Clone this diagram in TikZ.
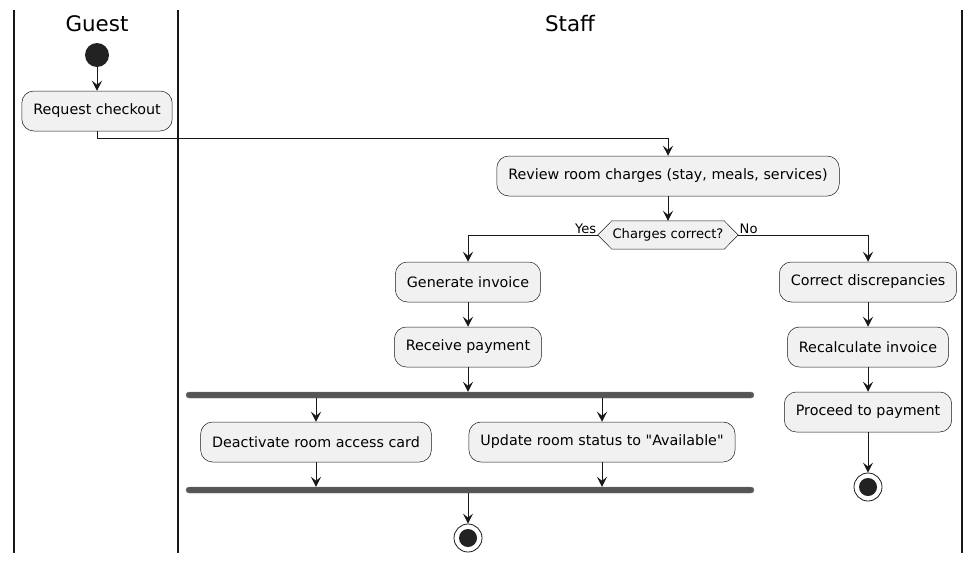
\documentclass[tikz,border=0pt]{standalone}
\usepackage{fontspec}
\setmainfont{DejaVu Sans}[Ligatures = TeXOff]
\usetikzlibrary{arrows.meta}
\definecolor{lineClr}{HTML}{181818}
\definecolor{boxFill}{HTML}{F1F1F1}
\definecolor{barClr}{HTML}{555555}
\definecolor{dotClr}{HTML}{222222}
\tikzstyle{actionStyle}=[shape = rectangle, rounded corners = 12pt, draw = lineClr, line width = 0.5pt, fill = boxFill, inner xsep = 11.5pt, minimum height = 40pt, font = \fontsize{14.3}{17}\selectfont]
\tikzstyle{barStyle}=[shape = rectangle, rounded corners = 3pt, draw = barClr!80, fill = barClr, minimum width = 568pt, minimum height = 6pt, inner sep = 0pt]
\tikzstyle{startStyle}=[shape = circle, minimum size = 24pt, inner sep = 0pt, fill = dotClr]
\tikzstyle{stopStyle}=[shape = circle, minimum size = 28pt, inner sep = 0pt, draw = lineClr, line width = 0.8pt, fill = white, path picture = {\fill[dotClr] (path picture bounding box.center) circle (9pt);}]
\tikzstyle{flowStyle}=[draw = lineClr, line width = 1pt, -{Stealth[length = 10pt, width = 10pt, inset = 4pt]}]
\tikzstyle{laneStyle}=[draw = lineClr, line width = 1.2pt]
\tikzstyle{smallLabel}=[font = \fontsize{13.1}{15}\selectfont, inner sep = 1pt]

\begin{document}
\begin{tikzpicture}[x = 1pt, y = -1pt]
\useasboundingbox (0,0) rectangle (973,563);
% swimlanes
\draw[laneStyle] (14,10) -- (14,553);
\draw[laneStyle] (178,10) -- (178,553);
\draw[laneStyle] (962,10) -- (962,553);
\node[font = \fontsize{21.4}{24}\selectfont] (guestTitle) at (97,24) {Guest};
\node[font = \fontsize{21.4}{24}\selectfont] (staffTitle) at (570,24) {Staff};
% nodes
\node[startStyle] (start) at (97,55) {};
\node[actionStyle] (request) at (97,111) {Request checkout};
\node[actionStyle] (review) at (668,176) {Review room charges (stay, meals, services)};
\node[smallLabel, minimum width = 140pt, minimum height = 28pt, inner sep = 0pt] (check) at (668,235) {Charges correct?};
\draw[draw = lineClr, line width = 0.5pt, fill = boxFill] (check.west) -- ([xshift = 14pt]check.north west) -- ([xshift = -14pt]check.north east) -- (check.east) -- ([xshift = -14pt]check.south east) -- ([xshift = 14pt]check.south west) -- cycle;
\node[smallLabel] at (check) {Charges correct?};
\node[actionStyle] (invoice) at (468,282) {Generate invoice};
\node[actionStyle] (payment) at (468,347) {Receive payment};
\node[barStyle] (fork) at (470,395) {};
\node[actionStyle] (deactivate) at (316,442) {Deactivate room access card};
\node[actionStyle] (status) at (602,442) {Update room status to "Available"};
\node[barStyle] (join) at (470,490) {};
\node[stopStyle] (stopA) at (468,538) {};
\node[actionStyle] (correct) at (868,282) {Correct discrepancies};
\node[actionStyle] (recalc) at (868,347) {Recalculate invoice};
\node[actionStyle] (proceed) at (868,412) {Proceed to payment};
\node[stopStyle] (stopB) at (868,487) {};
% edges
\draw[flowStyle] (start) -- (request);
\draw[flowStyle] (request.south) -- ++(0,7) -| (review.north);
\draw[flowStyle] (review) -- (check.north);
\draw[flowStyle] (check.west) -| node[smallLabel, pos = 0, above left] {Yes} (invoice.north);
\draw[flowStyle] (check.east) -| node[smallLabel, pos = 0, above right] {No} (correct.north);
\draw[flowStyle] (invoice) -- (payment);
\draw[flowStyle] (payment) -- (payment |- fork.north);
\draw[flowStyle] (deactivate |- fork.south) -- (deactivate);
\draw[flowStyle] (status |- fork.south) -- (status);
\draw[flowStyle] (deactivate) -- (deactivate |- join.north);
\draw[flowStyle] (status) -- (status |- join.north);
\draw[flowStyle] (stopA |- join.south) -- (stopA);
\draw[flowStyle] (correct) -- (recalc);
\draw[flowStyle] (recalc) -- (proceed);
\draw[flowStyle] (proceed) -- (stopB);
\end{tikzpicture}
\end{document}
